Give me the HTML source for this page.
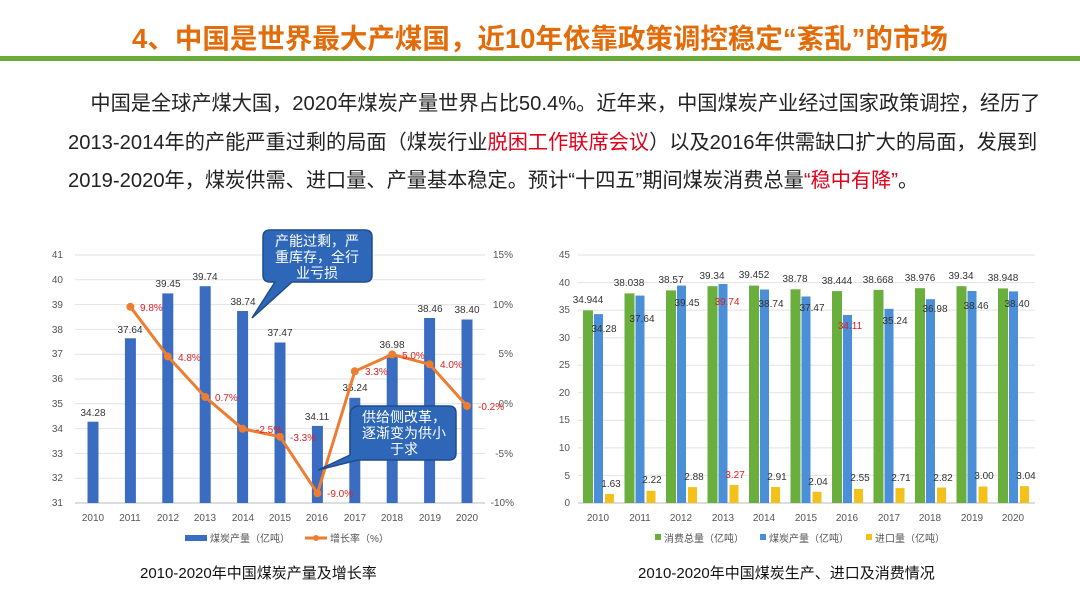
<!DOCTYPE html><html><head><meta charset="utf-8"><style>
body{margin:0;width:1080px;height:607px;background:#fff;overflow:hidden;font-family:"Liberation Sans","Noto Sans CJK SC",sans-serif;position:relative}
.t{position:absolute;left:0;width:1080px;top:16px;text-align:center;font-size:27.5px;font-weight:bold;color:#e36c0a;white-space:nowrap}
.bar{position:absolute;left:0;top:56px;width:1080px;height:5px;background:#6aaa3a}
.p{position:absolute;left:68px;width:1000px;font-size:20.2px;color:#222;line-height:38.5px;top:85px;white-space:nowrap}
.r{color:#e0001a}
.cap{position:absolute;top:562px;font-size:15px;color:#111}
</style></head><body>
<div class="t">4、中国是世界最大产煤国，近10年依靠政策调控稳定“紊乱”的市场</div>
<div class="bar"></div>
<div class="p">&nbsp;&nbsp;&nbsp;&nbsp;中国是全球产煤大国，2020年煤炭产量世界占比50.4%。近年来，中国煤炭产业经过国家政策调控，经历了<br>2013-2014年的产能严重过剩的局面（煤炭行业<span class="r">脱困工作联席会议</span>）以及2016年供需缺口扩大的局面，发展到<br>2019-2020年，煤炭供需、进口量、产量基本稳定。预计“十四五”期间煤炭消费总量<span class="r">“稳中有降”</span>。</div>
<svg style="position:absolute;left:0;top:0" width="1080" height="607" font-family="Liberation Sans,Noto Sans CJK SC,sans-serif">
<g stroke="#e2e2e2" stroke-width="1">
<line x1="75" x2="485" y1="255" y2="255"/><line x1="75" x2="485" y1="279.8" y2="279.8"/><line x1="75" x2="485" y1="304.6" y2="304.6"/><line x1="75" x2="485" y1="329.4" y2="329.4"/><line x1="75" x2="485" y1="354.2" y2="354.2"/><line x1="75" x2="485" y1="379" y2="379"/><line x1="75" x2="485" y1="403.8" y2="403.8"/><line x1="75" x2="485" y1="428.6" y2="428.6"/><line x1="75" x2="485" y1="453.4" y2="453.4"/><line x1="75" x2="485" y1="478.2" y2="478.2"/>
<line x1="578" x2="1035" y1="255" y2="255"/><line x1="578" x2="1035" y1="282.6" y2="282.6"/><line x1="578" x2="1035" y1="310.1" y2="310.1"/><line x1="578" x2="1035" y1="337.7" y2="337.7"/><line x1="578" x2="1035" y1="365.2" y2="365.2"/><line x1="578" x2="1035" y1="392.8" y2="392.8"/><line x1="578" x2="1035" y1="420.3" y2="420.3"/><line x1="578" x2="1035" y1="447.9" y2="447.9"/><line x1="578" x2="1035" y1="475.4" y2="475.4"/>
</g>
<line x1="75" x2="485" y1="503" y2="503" stroke="#bbb"/><line x1="578" x2="1035" y1="503" y2="503" stroke="#bbb"/>
<g font-size="10" fill="#555" text-anchor="end">
<text x="63" y="258">41</text><text x="63" y="283">40</text><text x="63" y="308">39</text><text x="63" y="333">38</text><text x="63" y="357">37</text><text x="63" y="382">36</text><text x="63" y="407">35</text><text x="63" y="432">34</text><text x="63" y="457">33</text><text x="63" y="481">32</text><text x="63" y="506">31</text>
<text x="513" y="258">15%</text><text x="513" y="308">10%</text><text x="513" y="357">5%</text><text x="513" y="407">0%</text><text x="513" y="457">-5%</text><text x="514" y="506">-10%</text>
<text x="570" y="258">45</text><text x="570" y="286">40</text><text x="570" y="313">35</text><text x="570" y="341">30</text><text x="570" y="368">25</text><text x="570" y="396">20</text><text x="570" y="423">15</text><text x="570" y="451">10</text><text x="570" y="479">5</text><text x="570" y="506">0</text>
</g>
<g fill="#3a6cc2">
<rect x="87.5" y="421.7" width="11" height="81.3"/><rect x="124.9" y="338.3" width="11" height="164.7"/><rect x="162.3" y="293.4" width="11" height="209.6"/><rect x="199.7" y="286.2" width="11" height="216.8"/><rect x="237.1" y="311" width="11" height="192"/><rect x="274.5" y="342.5" width="11" height="160.5"/><rect x="311.9" y="425.9" width="11" height="77.1"/><rect x="349.3" y="397.8" width="11" height="105.2"/><rect x="386.7" y="354.7" width="11" height="148.3"/><rect x="424.1" y="318" width="11" height="185"/><rect x="461.5" y="319.5" width="11" height="183.5"/>
</g>
<g font-size="10" fill="#333" text-anchor="middle">
<text x="93" y="416">34.28</text><text x="130" y="333">37.64</text><text x="168" y="287">39.45</text><text x="205" y="280">39.74</text><text x="243" y="305">38.74</text><text x="280" y="336">37.47</text><text x="317" y="420">34.11</text><text x="355" y="391">35.24</text><text x="392" y="348">36.98</text><text x="430" y="312">38.46</text><text x="467" y="313">38.40</text>
</g>
<polyline fill="none" stroke="#ed7d31" stroke-width="3" points="130.4,306.8 167.8,356.4 205.2,397 242.6,428.8 280,436.7 317.4,493.3 354.8,371.3 392.2,354.4 429.6,364.3 467,406"/>
<g fill="#ed7d31"><circle cx="130.4" cy="306.8" r="4"/><circle cx="167.8" cy="356.4" r="4"/><circle cx="205.2" cy="397" r="4"/><circle cx="242.6" cy="428.8" r="4"/><circle cx="280" cy="436.7" r="4"/><circle cx="317.4" cy="493.3" r="4"/><circle cx="354.8" cy="371.3" r="4"/><circle cx="392.2" cy="354.4" r="4"/><circle cx="429.6" cy="364.3" r="4"/><circle cx="467" cy="406" r="4"/></g>
<g font-size="10" fill="#e02020">
<text x="140" y="311">9.8%</text><text x="178" y="361">4.8%</text><text x="215" y="401">0.7%</text><text x="256" y="433">-2.5%</text><text x="290" y="441">-3.3%</text><text x="327" y="497">-9.0%</text><text x="365" y="375">3.3%</text><text x="402" y="359">5.0%</text><text x="440" y="368">4.0%</text><text x="478" y="410">-0.2%</text>
</g>
<path d="M270,230 H365 Q372,230 372,237 V275 Q372,282 365,282 H292 L252,318 L275,282 H270 Q263,282 263,275 V237 Q263,230 270,230Z" fill="#2e67b8" stroke="#1f4c8c" stroke-width="1.5"/>
<g font-size="14" fill="#fff" text-anchor="middle"><text x="317" y="246">产能过剩，严</text><text x="317" y="262">重库存，全行</text><text x="317" y="278">业亏损</text></g>
<path d="M359,406 H449 Q456,406 456,413 V453 Q456,460 449,460 H358 L318,470 L350,455 V413 Q352,406 359,406Z" fill="#2e67b8" stroke="#1f4c8c" stroke-width="1.5"/>
<g font-size="14" fill="#fff" text-anchor="middle"><text x="404" y="422">供给侧改革，</text><text x="404" y="438">逐渐变为供小</text><text x="404" y="454">于求</text></g>
<g font-size="10" fill="#555" text-anchor="middle">
<text x="93" y="521">2010</text><text x="130" y="521">2011</text><text x="168" y="521">2012</text><text x="205" y="521">2013</text><text x="243" y="521">2014</text><text x="280" y="521">2015</text><text x="317" y="521">2016</text><text x="355" y="521">2017</text><text x="392" y="521">2018</text><text x="430" y="521">2019</text><text x="467" y="521">2020</text>
<text x="598" y="521">2010</text><text x="640" y="521">2011</text><text x="681" y="521">2012</text><text x="723" y="521">2013</text><text x="764" y="521">2014</text><text x="806" y="521">2015</text><text x="847" y="521">2016</text><text x="889" y="521">2017</text><text x="930" y="521">2018</text><text x="972" y="521">2019</text><text x="1013" y="521">2020</text>
</g>
<rect x="185" y="535" width="22" height="6" fill="#3a6cc2"/><text x="210" y="542" font-size="10" fill="#555">煤炭产量（亿吨）</text>
<line x1="305" x2="327" y1="538" y2="538" stroke="#ed7d31" stroke-width="3"/><circle cx="316" cy="538" r="3" fill="#ed7d31"/><text x="330" y="542" font-size="10" fill="#555">增长率（%）</text>
<g fill="#6aaf3d">
<rect x="583" y="310.4" width="10" height="192.6"/><rect x="624.5" y="293.4" width="10" height="209.6"/><rect x="666" y="290.4" width="10" height="212.6"/><rect x="707.5" y="286.2" width="10" height="216.8"/><rect x="749" y="285.6" width="10" height="217.4"/><rect x="790.5" y="289.3" width="10" height="213.7"/><rect x="832" y="291.1" width="10" height="211.9"/><rect x="873.5" y="289.9" width="10" height="213.1"/><rect x="915" y="288.2" width="10" height="214.8"/><rect x="956.5" y="286.2" width="10" height="216.8"/><rect x="998" y="288.4" width="10" height="214.6"/>
</g>
<g fill="#4a8fd8">
<rect x="594" y="314.1" width="9" height="188.9"/><rect x="635.5" y="295.6" width="9" height="207.4"/><rect x="677" y="285.6" width="9" height="217.4"/><rect x="718.5" y="284" width="9" height="219"/><rect x="760" y="289.5" width="9" height="213.5"/><rect x="801.5" y="296.5" width="9" height="206.5"/><rect x="843" y="315" width="9" height="188"/><rect x="884.5" y="308.8" width="9" height="194.2"/><rect x="926" y="299.2" width="9" height="203.8"/><rect x="967.5" y="291" width="9" height="212"/><rect x="1009" y="291.4" width="9" height="211.6"/>
</g>
<g fill="#f2c11a">
<rect x="605" y="494" width="9" height="9"/><rect x="646.5" y="490.8" width="9" height="12.2"/><rect x="688" y="487.1" width="9" height="15.9"/><rect x="729.5" y="485" width="9" height="18"/><rect x="771" y="487" width="9" height="16"/><rect x="812.5" y="491.8" width="9" height="11.2"/><rect x="854" y="489" width="9" height="14"/><rect x="895.5" y="488.1" width="9" height="14.9"/><rect x="937" y="487.5" width="9" height="15.5"/><rect x="978.5" y="486.5" width="9" height="16.5"/><rect x="1020" y="486.2" width="9" height="16.8"/>
</g>
<g font-size="10" fill="#333" text-anchor="middle">
<text x="588" y="303">34.944</text><text x="629" y="286">38.038</text><text x="671" y="283">38.57</text><text x="712" y="279">39.34</text><text x="754" y="278">39.452</text><text x="795" y="282">38.78</text><text x="837" y="284">38.444</text><text x="878" y="283">38.668</text><text x="920" y="281">38.976</text><text x="961" y="279">39.34</text><text x="1003" y="281">38.948</text>
<text x="604" y="332">34.28</text><text x="642" y="322">37.64</text><text x="687" y="306">39.45</text><text x="727" y="305" fill="#e02020">39.74</text><text x="771" y="307">38.74</text><text x="812" y="311">37.47</text><text x="850" y="329" fill="#e02020">34.11</text><text x="895" y="324">35.24</text><text x="935" y="312">36.98</text><text x="976" y="309">38.46</text><text x="1017" y="307">38.40</text>
<text x="611" y="487">1.63</text><text x="652" y="483">2.22</text><text x="694" y="480">2.88</text><text x="735" y="478" fill="#e02020">3.27</text><text x="777" y="480">2.91</text><text x="818" y="485">2.04</text><text x="860" y="481">2.55</text><text x="901" y="481">2.71</text><text x="943" y="481">2.82</text><text x="984" y="479">3.00</text><text x="1026" y="479">3.04</text>
</g>
<g font-size="10" fill="#555">
<rect x="655" y="534" width="6" height="6" fill="#6aaf3d"/><text x="664" y="542">消费总量（亿吨）</text>
<rect x="760" y="534" width="6" height="6" fill="#4a8fd8"/><text x="769" y="542">煤炭产量（亿吨）</text>
<rect x="866" y="534" width="6" height="6" fill="#f2c11a"/><text x="875" y="542">进口量（亿吨）</text>
</g>
</svg>
<div class="cap" style="left:140px">2010-2020年中国煤炭产量及增长率</div>
<div class="cap" style="left:638px">2010-2020年中国煤炭生产、进口及消费情况</div>
</body></html>
